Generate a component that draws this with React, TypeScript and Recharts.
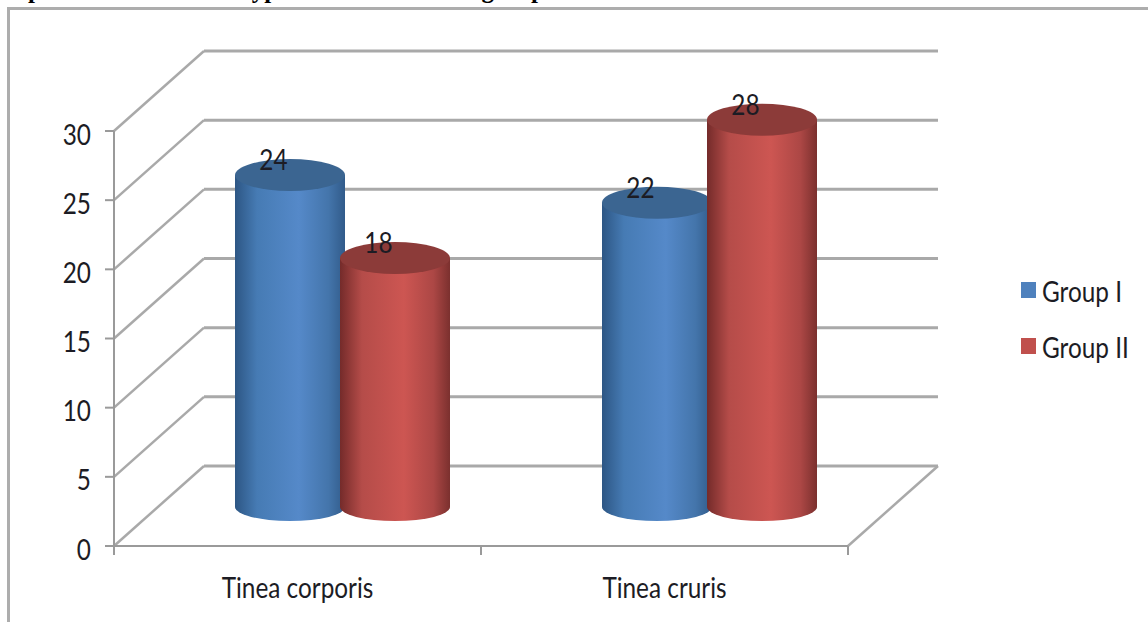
import { BarChart, Bar, XAxis, YAxis, CartesianGrid, Legend, LabelList } from "recharts";

const categories = ["Tinea corporis", "Tinea cruris"];
const groupI = [24, 22];
const groupII = [18, 28];
const yTicks = [0, 5, 10, 15, 20, 25, 30];
const seriesNames = ["Group I", "Group II"];

const title = "Graph 1: Assessment of type of lesions in both groups";

const W = 1148;
const H = 622;
const PLOT_LEFT = 114;
const PLOT_RIGHT = 848;
const PLOT_TOP = 131;
const PLOT_BOTTOM = 546;
const DEPTH_X = 90;
const DEPTH_Y = 80;
const BAR_SHIFT_X = 45;
const BAR_SHIFT_Y = 39;
const GRID = "#a9a9a9";
const AXIS = "#9a9a9a";
const TEXT = "#1c1c24";
const FONT = "Lato, sans-serif";
const SQUEEZE = 0.84;

const data = categories.map((name, i) => ({
  name,
  groupI: groupI[i],
  groupII: groupII[i],
}));

const CAPS: Record<string, string> = {
  groupI: "#3b6591",
  groupII: "#8c3b39",
};

// narrow text, the original font is stretched vertically
function Label({ x, y, anchor, size = 29, children }: any) {
  return (
    <text
      transform={`translate(${x} ${y}) scale(${SQUEEZE} 1)`}
      textAnchor={anchor}
      fontFamily={FONT}
      fontSize={size}
      fill={TEXT}
    >
      {children}
    </text>
  );
}

function Cylinder({ x, y, width, height, dataKey }: any) {
  const left = x + BAR_SHIFT_X;
  const right = left + width;
  const top = y - BAR_SHIFT_Y;
  const base = y + height - BAR_SHIFT_Y;
  const rx = width / 2;
  return (
    <g>
      <path
        d={`M${left},${top} L${left},${base} A${rx},14 0 0 0 ${right},${base} L${right},${top} Z`}
        fill={`url(#grad-${dataKey})`}
      />
      <ellipse cx={left + rx} cy={top} rx={rx} ry={16} fill={CAPS[dataKey]} />
    </g>
  );
}

function valueLabel(props: any) {
  const { x, y, width, value } = props;
  return (
    <Label x={x + BAR_SHIFT_X + width / 2 - 16.5} y={y - BAR_SHIFT_Y - 5} anchor="middle">
      {value}
    </Label>
  );
}

function gridLine(props: any) {
  const { x1, x2, y1 } = props;
  const isFloor = Math.abs(y1 - PLOT_BOTTOM) < 1;
  return (
    <g key={`wall-${y1}`} fill="none" stroke={GRID}>
      <path d={`M${x1},${y1} L${x1 + DEPTH_X},${y1 - DEPTH_Y}`} strokeWidth={2.5} />
      <path d={`M${x1 + DEPTH_X},${y1 - DEPTH_Y} L${x2 + DEPTH_X},${y1 - DEPTH_Y}`} strokeWidth={3} />
      {isFloor && <path d={`M${x2},${y1} L${x2 + DEPTH_X},${y1 - DEPTH_Y}`} strokeWidth={2.5} />}
    </g>
  );
}

function categoryTick({ x, y, payload, index }: any) {
  const half = (PLOT_RIGHT - PLOT_LEFT) / categories.length / 2;
  return (
    <g>
      <line x1={x - half} x2={x - half} y1={PLOT_BOTTOM} y2={PLOT_BOTTOM + 9} stroke={AXIS} strokeWidth={2} />
      {index === categories.length - 1 && (
        <line x1={x + half} x2={x + half} y1={PLOT_BOTTOM} y2={PLOT_BOTTOM + 9} stroke={AXIS} strokeWidth={2} />
      )}
      <Label x={x} y={PLOT_BOTTOM + 52} anchor="middle">
        {payload.value}
      </Label>
    </g>
  );
}

function valueTick({ y, payload }: any) {
  return (
    <Label x={PLOT_LEFT - 23} y={y + 13.5} anchor="end">
      {payload.value}
    </Label>
  );
}

function legendContent({ payload }: any) {
  return (
    <svg width={127} height={90} style={{ display: "block" }}>
      {payload.map((item: any, i: number) => (
        <g key={item.value} transform={`translate(0 ${i * 56})`}>
          <rect x={0} y={6} width={15} height={16} fill={item.color} />
          <Label x={21} y={26} anchor="start">
            {item.value}
          </Label>
        </g>
      ))}
    </svg>
  );
}

export default function App() {
  return (
    <div style={{ position: "absolute", left: 0, top: 0, width: W, height: H, overflow: "hidden", background: "#fff" }}>
      <div
        style={{
          position: "absolute",
          left: -15,
          top: -24,
          whiteSpace: "nowrap",
          font: "bold 25px 'Liberation Serif', serif",
          color: "#000",
        }}
      >
        {title}
      </div>
      <div
        style={{
          position: "absolute",
          left: 7,
          top: 7,
          width: W,
          height: H,
          borderLeft: "3px solid #adadad",
          borderTop: "3px solid #adadad",
        }}
      />
      <div style={{ position: "absolute", left: 0, top: 0 }}>
        <BarChart
          width={W}
          height={H}
          data={data}
          barSize={110}
          barGap={-5}
          margin={{ top: PLOT_TOP, right: W - PLOT_RIGHT, bottom: 0, left: 14 }}
        >
          <defs>
            <linearGradient id="grad-groupI" x1="0" x2="1" y1="0" y2="0">
              <stop offset="0%" stopColor="#2d5684" />
              <stop offset="20%" stopColor="#467bb4" />
              <stop offset="58%" stopColor="#5589c9" />
              <stop offset="85%" stopColor="#4475ab" />
              <stop offset="100%" stopColor="#315b8a" />
            </linearGradient>
            <linearGradient id="grad-groupII" x1="0" x2="1" y1="0" y2="0">
              <stop offset="0%" stopColor="#742b2a" />
              <stop offset="20%" stopColor="#b54c49" />
              <stop offset="58%" stopColor="#cd5652" />
              <stop offset="85%" stopColor="#ac4745" />
              <stop offset="100%" stopColor="#7b302e" />
            </linearGradient>
          </defs>
          <CartesianGrid vertical={false} horizontal={gridLine} />
          <XAxis
            dataKey="name"
            height={H - PLOT_BOTTOM}
            stroke={AXIS}
            strokeWidth={2}
            tickLine={false}
            interval={0}
            tick={categoryTick}
          />
          <YAxis
            type="number"
            domain={[0, 30]}
            ticks={yTicks}
            width={PLOT_LEFT - 14}
            stroke={AXIS}
            strokeWidth={2}
            tickSize={9}
            interval={0}
            tick={valueTick}
          />
          <Legend
            layout="vertical"
            align="center"
            verticalAlign="middle"
            content={legendContent}
            wrapperStyle={{ left: 1021, top: 276, width: 127, height: 90 }}
          />
          <Bar dataKey="groupI" name={seriesNames[0]} fill="#4f81bd" shape={Cylinder} isAnimationActive={false}>
            <LabelList dataKey="groupI" content={valueLabel} />
          </Bar>
          <Bar dataKey="groupII" name={seriesNames[1]} fill="#c0504d" shape={Cylinder} isAnimationActive={false}>
            <LabelList dataKey="groupII" content={valueLabel} />
          </Bar>
        </BarChart>
      </div>
    </div>
  );
}
